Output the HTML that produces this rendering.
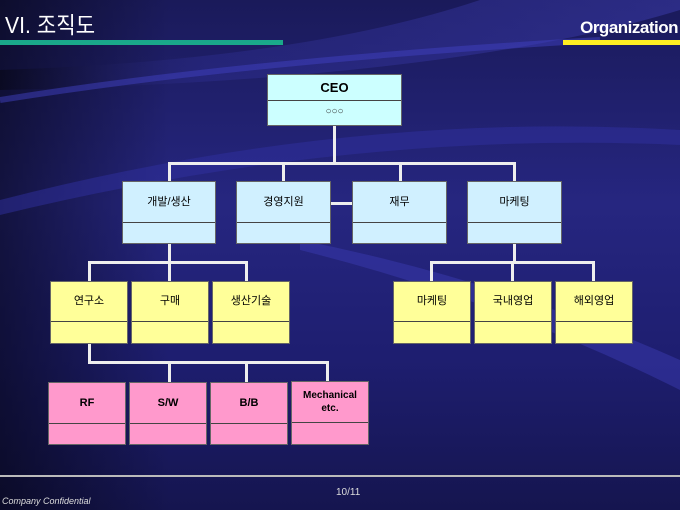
<!DOCTYPE html><html><head><meta charset="utf-8"><style>
body{margin:0;width:680px;height:510px;overflow:hidden;position:relative;font-family:"Liberation Sans","Noto Sans CJK KR",sans-serif;
background:linear-gradient(180deg,#1a1a5a 0%,#262680 40%,#1e1e70 70%,#15154f 100%);}
.b{position:absolute;border:1px solid #666;box-sizing:border-box;font-size:11px;color:#000;text-align:center}
.b .t{position:absolute;left:0;right:0;top:0;display:flex;align-items:center;justify-content:center;border-bottom:1px solid #444;line-height:13px}
.l{position:absolute;background:#eee}
.c{background:#d0f0ff}.y{background:#ffff99}.p{background:#ff99cc}
</style></head><body>
<svg style="position:absolute;left:0;top:0" width="680" height="510">
<defs><linearGradient id="g" x1="0" x2="1"><stop offset="0" stop-color="#000" stop-opacity=".6"/><stop offset=".3" stop-color="#3a3ab0" stop-opacity=".4"/><stop offset="1" stop-color="#4b4bd0" stop-opacity=".6"/></linearGradient>
<linearGradient id="d" x1="0" x2="1"><stop offset="0" stop-color="#000" stop-opacity=".5"/><stop offset=".25" stop-color="#000" stop-opacity="0"/></linearGradient></defs>
<rect width="680" height="510" fill="url(#d)"/>
<path d="M0 70 Q300 60 480 0 L680 0 L680 10 Q450 80 0 90Z" fill="url(#g)" opacity=".6"/>
<path d="M0 200 Q350 110 680 130 L680 145 Q350 130 0 215Z" fill="#3030a0" opacity=".5"/>
<path d="M300 240 Q500 280 680 360 L680 390 Q500 300 300 250Z" fill="#3a3ab0" opacity=".5"/>
<path d="M0 100 Q250 60 600 40" stroke="#4040c0" stroke-width="6" fill="none" opacity=".5"/>
</svg>
<div style="position:absolute;left:5px;top:6px;color:#fff;font-size:23px;transform:scaleX(0.92);transform-origin:left">VI. 조직도</div>
<div style="position:absolute;left:0;top:40px;width:283px;height:5px;background:#1aa88a"></div>
<div style="position:absolute;right:2px;top:18px;color:#fff;font-size:17px;font-weight:bold;letter-spacing:-0.5px">Organization</div>
<div style="position:absolute;left:563px;top:40px;width:117px;height:5px;background:#ffee22"></div>

<div class="l" style="left:333px;top:125px;width:3px;height:39px"></div>
<div class="l" style="left:168px;top:162px;width:348px;height:3px"></div>
<div class="l" style="left:168px;top:162px;width:3px;height:20px"></div>
<div class="l" style="left:282px;top:162px;width:3px;height:20px"></div>
<div class="l" style="left:399px;top:162px;width:3px;height:20px"></div>
<div class="l" style="left:513px;top:162px;width:3px;height:20px"></div>
<div class="l" style="left:330px;top:202px;width:22px;height:3px"></div>

<div class="l" style="left:168px;top:243px;width:3px;height:20px"></div>
<div class="l" style="left:88px;top:261px;width:160px;height:3px"></div>
<div class="l" style="left:88px;top:261px;width:3px;height:21px"></div>
<div class="l" style="left:168px;top:261px;width:3px;height:21px"></div>
<div class="l" style="left:245px;top:261px;width:3px;height:21px"></div>
<div class="l" style="left:513px;top:243px;width:3px;height:20px"></div>
<div class="l" style="left:430px;top:261px;width:165px;height:3px"></div>
<div class="l" style="left:430px;top:261px;width:3px;height:21px"></div>
<div class="l" style="left:511px;top:261px;width:3px;height:21px"></div>
<div class="l" style="left:592px;top:261px;width:3px;height:21px"></div>

<div class="l" style="left:88px;top:343px;width:3px;height:20px"></div>
<div class="l" style="left:88px;top:361px;width:241px;height:3px"></div>
<div class="l" style="left:168px;top:361px;width:3px;height:21px"></div>
<div class="l" style="left:245px;top:361px;width:3px;height:21px"></div>
<div class="l" style="left:326px;top:361px;width:3px;height:21px"></div>

<div class="b" style="left:267px;top:74px;width:135px;height:52px;background:#ccffff"><div class="t" style="height:25px;font-weight:bold;font-size:13px">CEO</div><div style="position:absolute;top:31px;left:0;right:0;font-size:10px;color:#333">○○○</div></div>

<div class="b c" style="left:122px;top:181px;width:94px;height:63px"><div class="t" style="height:40px">개발/생산</div></div>
<div class="b c" style="left:236px;top:181px;width:95px;height:63px"><div class="t" style="height:40px">경영지원</div></div>
<div class="b c" style="left:352px;top:181px;width:95px;height:63px"><div class="t" style="height:40px">재무</div></div>
<div class="b c" style="left:467px;top:181px;width:95px;height:63px"><div class="t" style="height:40px">마케팅</div></div>

<div class="b y" style="left:50px;top:281px;width:78px;height:63px"><div class="t" style="height:39px">연구소</div></div>
<div class="b y" style="left:131px;top:281px;width:78px;height:63px"><div class="t" style="height:39px">구매</div></div>
<div class="b y" style="left:212px;top:281px;width:78px;height:63px"><div class="t" style="height:39px">생산기술</div></div>
<div class="b y" style="left:393px;top:281px;width:78px;height:63px"><div class="t" style="height:39px">마케팅</div></div>
<div class="b y" style="left:474px;top:281px;width:78px;height:63px"><div class="t" style="height:39px">국내영업</div></div>
<div class="b y" style="left:555px;top:281px;width:78px;height:63px"><div class="t" style="height:39px">해외영업</div></div>

<div class="b p" style="left:48px;top:382px;width:78px;height:63px"><div class="t" style="height:40px;font-weight:bold">RF</div></div>
<div class="b p" style="left:129px;top:382px;width:78px;height:63px"><div class="t" style="height:40px;font-weight:bold">S/W</div></div>
<div class="b p" style="left:210px;top:382px;width:78px;height:63px"><div class="t" style="height:40px;font-weight:bold">B/B</div></div>
<div class="b p" style="left:291px;top:381px;width:78px;height:64px"><div class="t" style="height:40px;font-weight:bold;font-size:10px">Mechanical<br>etc.</div></div>

<div style="position:absolute;left:0;top:475px;width:680px;height:2px;background:#bbb"></div>
<div style="position:absolute;left:336px;top:487px;color:#ddd;font-size:10px">10/11</div>
<div style="position:absolute;left:2px;top:496px;color:#ddd;font-size:9px;font-style:italic">Company Confidential</div>
</body></html>
